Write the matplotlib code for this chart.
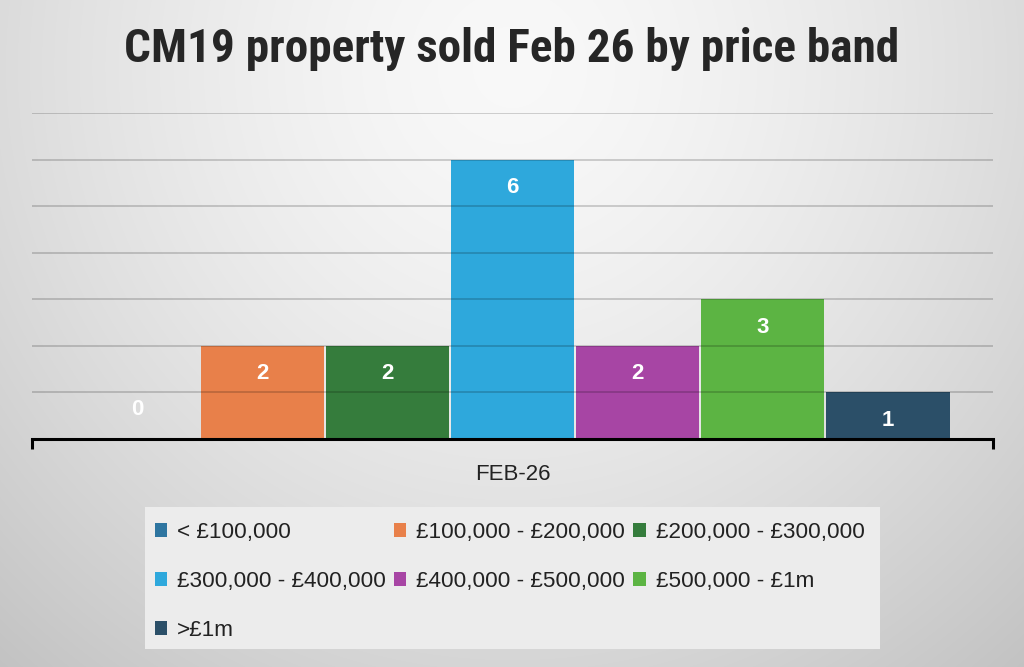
import numpy as np
import matplotlib
matplotlib.use("Agg")
import matplotlib.pyplot as plt
from matplotlib.patches import Patch, Rectangle

title = "CM19 property sold Feb 26 by price band"
category = "FEB-26"
bands = ["< £100,000", "£100,000 - £200,000", "£200,000 - £300,000",
         "£300,000 - £400,000", "£400,000 - £500,000", "£500,000 - £1m", ">£1m"]
values = [0, 2, 2, 6, 2, 3, 1]
colors = ["#2e75a0", "#e8804a", "#357c3c", "#2ea8dc", "#a745a4", "#5cb443", "#2b4f68"]

plt.rcParams['font.family'] = ['Liberation Sans', 'DejaVu Sans']

W, H = 1024, 667
fig = plt.figure(figsize=(W / 100, H / 100), dpi=100)

# background radial gradient
bg = fig.add_axes([0, 0, 1, 1], zorder=-10)
yy, xx = np.mgrid[0:H, 0:W]
r = np.sqrt(((xx - W * 0.5) / (W * 0.6)) ** 2 + ((yy - H * 0.1) / (H * 0.95)) ** 2)
img = 0.975 - 0.15 * np.clip(r, 0, 1.3) ** 1.5
bg.imshow(np.dstack([img] * 3).clip(0, 1), aspect='auto', extent=[0, 1, 0, 1], origin='upper')
bg.axis('off')

left, right = 32 / W, 993 / W
bottom, top = 1 - 439 / H, 1 - 113 / H
ax = fig.add_axes([left, bottom, right - left, top - bottom])
ax.patch.set_alpha(0)

x = np.arange(len(values))
ax.bar(x, values, width=0.985, color=colors, zorder=2)
ax.set_xlim(-0.84, 6.84)
ax.set_ylim(0, 7)
ax.set_yticks(range(1, 8))
ax.yaxis.grid(True, color='black', alpha=0.2, lw=1.2, zorder=3)
ax.set_axisbelow(False)
ax.tick_params(axis='y', left=False, labelleft=False)
for s in ['top', 'right', 'left']:
    ax.spines[s].set_visible(False)
ax.spines['bottom'].set_linewidth(2.2)
ax.spines['bottom'].set_zorder(5)
ax.set_xticks([3])
ax.set_xticklabels([category], fontsize=16, color='#222222')
ax.tick_params(axis='x', which='major', length=0, pad=18)
ax.set_xticks([-0.84, 6.84], minor=True)
ax.tick_params(axis='x', which='minor', length=7, width=2.2, color='black')

for xi, v in zip(x, values):
    if v > 0:
        ax.annotate(str(v), (xi, v), xytext=(0, -20), textcoords='offset points',
                    ha='center', va='center', color='white', fontsize=16,
                    fontweight='bold', zorder=6)
    else:
        ax.annotate(str(v), (xi, 0), xytext=(0, 21), textcoords='offset points',
                    ha='center', va='center', color='white', fontsize=16,
                    fontweight='bold', zorder=6)

fig.text(0.5, 1 - 49 / H, title, ha='center', va='center', fontsize=34,
         fontweight='bold', color='#262626',
         family=['Liberation Sans Narrow', 'Roboto Condensed', 'Liberation Sans'])

# legend background box
fig.patches.append(Rectangle((145 / W, 1 - 649 / H), (880 - 145) / W, (649 - 507) / H,
                             transform=fig.transFigure, facecolor='#ececec',
                             edgecolor='none', zorder=0))

handles = [Patch(facecolor=c, edgecolor='none') for c in colors]
order = [0, 3, 6, 1, 4, 2, 5]
leg = fig.legend([handles[i] for i in order], [bands[i] for i in order], ncol=3,
                 loc='upper left', bbox_to_anchor=(148 / W, 1 - 515 / H),
                 fontsize=16.2, frameon=False, handlelength=0.55, handleheight=0.55,
                 handletextpad=0.45, columnspacing=0.35, labelspacing=1.25,
                 borderpad=0.3, borderaxespad=0)
for t in leg.get_texts():
    t.set_color('#222222')

fig.savefig("out.png", dpi=100)
